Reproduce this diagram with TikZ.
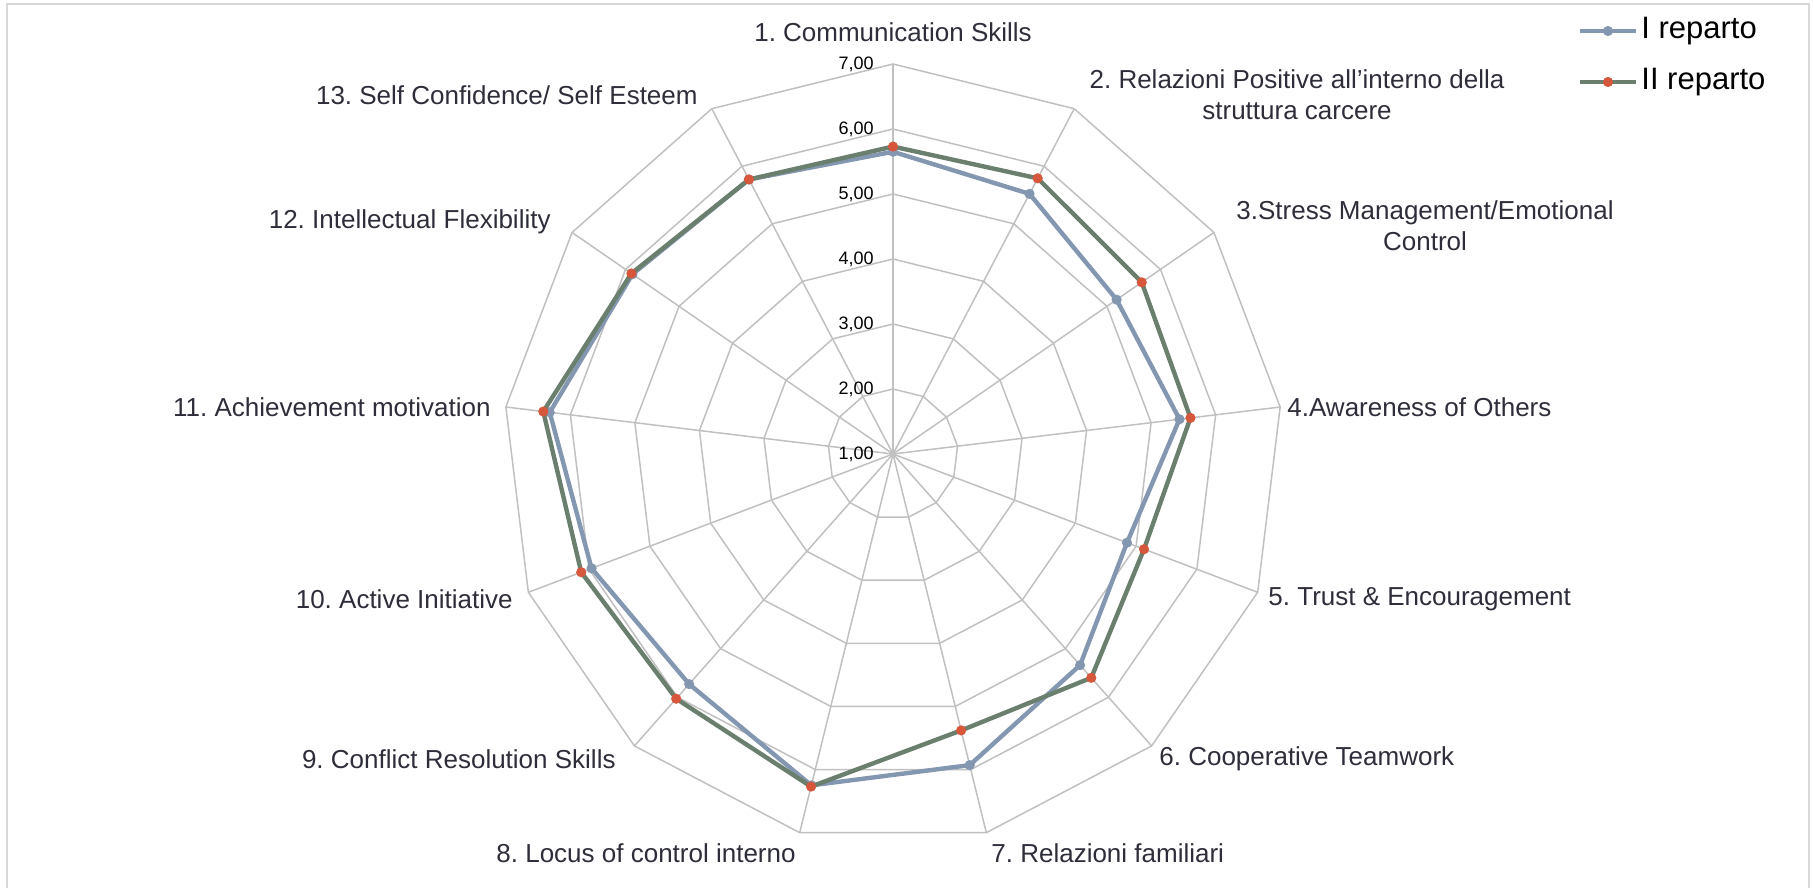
\documentclass[tikz,border=0pt]{standalone}
\usepackage{fontspec}
\setmainfont{Liberation Sans}
\frenchspacing
\definecolor{gridc}{HTML}{C0C0C0}
\definecolor{framec}{HTML}{D9D9D9}
\definecolor{serA}{HTML}{8497B0}
\definecolor{serB}{HTML}{6A7F6E}
\definecolor{markc}{HTML}{D6573B}
\definecolor{labc}{HTML}{2E2E3A}
\begin{document}
\begin{tikzpicture}[x=0.5pt,y=-0.5pt,
  cat/.style={font=\fontsize{13pt}{15.5pt}\selectfont, text=labc, inner sep=0pt, align=center},
  tick/.style={font=\fontsize{9pt}{10pt}\selectfont, text=black, anchor=east, inner sep=0pt},
  leg/.style={font=\fontsize{15.5pt}{18pt}\selectfont, text=black, anchor=west, inner sep=0pt},
  gridl/.style={draw=gridc, line width=0.75pt},
  serline/.style={line width=2.2pt, line join=round},
]
\useasboundingbox (0,0) rectangle (1813,888);
\draw[framec, line width=1pt] (7,888) -- (7,4) -- (1809,4) -- (1809,888);
\begin{scope}[shift={(893,454)}]
  \coordinate (ctr) at (0,0);
  \foreach \k in {0,...,12} {
    \coordinate (o\k) at ({390*sin(360*\k/13)},{-390*cos(360*\k/13)});
    \draw[gridl] (ctr) -- (o\k);
  }
  \foreach \i in {1,...,6} {
    \draw[gridl] plot[samples at={0,...,12}, variable=\k]
      ({65*\i*sin(360*\k/13)},{-65*\i*cos(360*\k/13)}) -- cycle;
  }
  \foreach \v in {1,...,7} {
    \node[tick] (t\v) at (-19,{-65*(\v-1)}) {\v,00};
  }
  \foreach \v [count=\k from 0] in {5.65,5.52,5.18,5.44,4.85,5.34,5.93,6.25,5.73,5.96,6.32,5.87,5.77} {
    \coordinate (a\k) at ({65*(\v-1)*sin(360*\k/13)},{-65*(\v-1)*cos(360*\k/13)});
  }
  \foreach \v [count=\k from 0] in {5.73,5.79,5.65,5.61,5.13,5.60,5.38,6.27,6.03,6.13,6.42,5.89,5.77} {
    \coordinate (b\k) at ({65*(\v-1)*sin(360*\k/13)},{-65*(\v-1)*cos(360*\k/13)});
  }
\end{scope}
\draw[serA, serline] (a0) -- (a1) -- (a2) -- (a3) -- (a4) -- (a5) -- (a6) -- (a7) -- (a8) -- (a9) -- (a10) -- (a11) -- (a12) -- cycle;
\foreach \k in {0,...,12} { \fill[serA] (a\k) circle[radius=2.55pt]; }
\draw[serB, serline] (b0) -- (b1) -- (b2) -- (b3) -- (b4) -- (b5) -- (b6) -- (b7) -- (b8) -- (b9) -- (b10) -- (b11) -- (b12) -- cycle;
\foreach \k in {0,...,12} { \fill[markc] (b\k) circle[radius=2.55pt]; }
% category labels
\node[cat] (c1) at (893,32) {1. Communication Skills};
\node[cat] (c2) at (1297,94.5) {2. Relazioni Positive all’interno della\\struttura carcere};
\node[cat] (c3) at (1425,226) {3.Stress Management/Emotional\\Control};
\node[cat, anchor=west] (c4) at (1287,407) {4.Awareness of Others};
\node[cat, anchor=west] (c5) at (1268,599) {5. Trust \& Encouragement};
\node[cat, anchor=west] (c6) at (1159,759) {6. Cooperative Teamwork};
\node[cat, anchor=west] (c7) at (991,853) {7. Relazioni familiari};
\node[cat, anchor=east] (c8) at (796,853) {8. Locus of control interno};
\node[cat, anchor=east] (c9) at (616,759) {9. Conflict Resolution Skills};
\node[cat, anchor=east] (c10) at (513,599) {10. Active Initiative};
\node[cat, anchor=east] (c11) at (491,407) {11. Achievement motivation};
\node[cat, anchor=east] (c12) at (551,222) {12. Intellectual Flexibility};
\node[cat, anchor=east] (c13) at (698,95) {13. Self Confidence/ Self Esteem};
% legend
\coordinate (la1) at (1580,31); \coordinate (la2) at (1636,31); \coordinate (lam) at (1608,31);
\coordinate (lb1) at (1580,82); \coordinate (lb2) at (1636,82); \coordinate (lbm) at (1608,82);
\draw[serA, serline] (la1) -- (la2);
\fill[serA] (lam) circle[radius=2.55pt];
\node[leg] (l1) at (1641,31) {I reparto};
\draw[serB, serline] (lb1) -- (lb2);
\fill[markc] (lbm) circle[radius=2.55pt];
\node[leg] (l2) at (1641,82) {II reparto};
\end{tikzpicture}
\end{document}
